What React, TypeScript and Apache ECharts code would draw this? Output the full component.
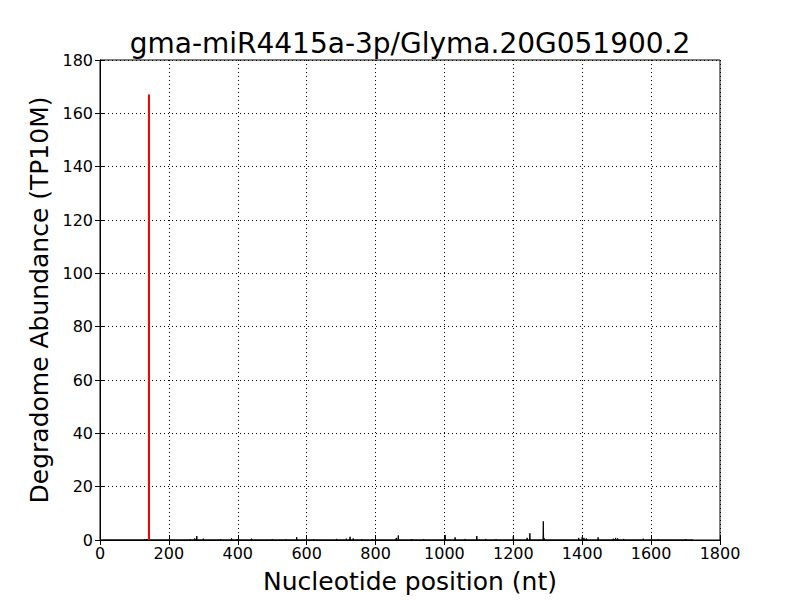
import React, { useEffect, useRef } from "react";
import * as echarts from "echarts";

const titleText = "gma-miR4415a-3p/Glyma.20G051900.2";
const xTicks = [0, 200, 400, 600, 800, 1000, 1200, 1400, 1600, 1800];
const yTicks = [0, 20, 40, 60, 80, 100, 120, 140, 160, 180];
const transcriptLength = 1722;
const spikePositions = [130, 136, 142, 262, 275, 281, 300, 350, 382, 398, 440, 500, 540, 571, 620, 687, 715, 726, 735, 760, 790, 860, 866, 905, 940, 1002, 1031, 1060, 1094, 1120, 1150, 1200, 1240, 1248, 1287, 1290, 1390, 1400, 1405, 1412, 1446, 1490, 1497, 1503, 1520, 1577, 1620, 1700];
const spikeValues = [0.3, 0.4, 167, 0.3, 0.6, 1.5, 0.5, 0.3, 0.6, 0.3, 0.5, 0.3, 0.3, 1.1, 0.3, 0.4, 0.5, 1.2, 0.6, 0.3, 0.3, 0.8, 1.7, 0.3, 0.3, 1.9, 1.0, 0.4, 1.5, 0.4, 0.3, 1.5, 0.8, 2.5, 7.0, 0.6, 0.8, 1.2, 0.8, 0.6, 1.0, 0.5, 0.8, 0.6, 0.4, 0.5, 0.3, 0.3];
const targetPosition = 142;
const targetValue = 167;

export default function App() {
  const ref = useRef<HTMLDivElement>(null);
  useEffect(() => {
    if (!ref.current) return;
    const chart = echarts.init(ref.current, null, { renderer: "svg" });
    const lineData: number[][] = [[1, 0]];
    spikePositions.forEach((p, i) => {
      lineData.push([p - 1, 0], [p, spikeValues[i]], [p + 1, 0]);
    });
    lineData.push([transcriptLength, 0]);
    const font = "DejaVu Sans";
    const tickLabel = { color: "#000", fontFamily: font, fontSize: 16, formatter: (v: number) => String(v) };
    const gridLine = { show: true, lineStyle: { color: "#000", type: [1, 3], width: 1 } };
    chart.setOption({
      animation: false,
      backgroundColor: "#fff",
      title: {
        text: titleText,
        left: 405,
        top: 24,
        textAlign: "center",
        textStyle: { fontFamily: font, fontSize: 28, fontWeight: "normal", color: "#000" },
      },
      grid: { left: 100, right: 80, top: 60, bottom: 60, show: true, borderColor: "#000", borderWidth: 1 },
      xAxis: [
        {
          type: "value",
          min: xTicks[0],
          max: xTicks[xTicks.length - 1],
          interval: 200,
          name: "Nucleotide position (nt)",
          nameLocation: "middle",
          nameGap: 29,
          nameTextStyle: { fontFamily: font, fontSize: 25, color: "#000" },
          axisLine: { show: true, lineStyle: { color: "#000" } },
          axisTick: { show: true, inside: true, length: 5, lineStyle: { color: "#000" } },
          axisLabel: { ...tickLabel, margin: 5 },
          splitLine: gridLine,
        },
        {
          type: "value",
          position: "top",
          min: xTicks[0],
          max: xTicks[xTicks.length - 1],
          interval: 200,
          axisLine: { show: true, lineStyle: { color: "#000" } },
          axisTick: { show: true, inside: true, length: 5, lineStyle: { color: "#000" } },
          axisLabel: { show: false },
          splitLine: { show: false },
        },
      ],
      yAxis: [
        {
          type: "value",
          min: yTicks[0],
          max: yTicks[yTicks.length - 1],
          interval: 20,
          name: "Degradome Abundance (TP10M)",
          nameLocation: "middle",
          nameGap: 42,
          nameTextStyle: { fontFamily: font, fontSize: 25, color: "#000" },
          axisLine: { show: true, lineStyle: { color: "#000" } },
          axisTick: { show: true, inside: true, length: 5, lineStyle: { color: "#000" } },
          axisLabel: { ...tickLabel, margin: 7 },
          splitLine: gridLine,
        },
        {
          type: "value",
          position: "right",
          min: yTicks[0],
          max: yTicks[yTicks.length - 1],
          interval: 20,
          axisLine: { show: true, lineStyle: { color: "#000" } },
          axisTick: { show: true, inside: true, length: 5, lineStyle: { color: "#000" } },
          axisLabel: { show: false },
          splitLine: { show: false },
        },
      ],
      series: [
        {
          type: "line",
          data: lineData,
          showSymbol: false,
          symbol: "none",
          lineStyle: { color: "#000", width: 1 },
          z: 2,
        },
        {
          type: "line",
          data: [[targetPosition, 0], [targetPosition, targetValue]],
          showSymbol: false,
          symbol: "none",
          lineStyle: { color: "#ff0000", width: 2 },
          z: 3,
        },
      ],
    });
    return () => chart.dispose();
  }, []);
  return <div ref={ref} style={{ width: 800, height: 600, position: "absolute", left: 0, top: 0 }} />;
}
